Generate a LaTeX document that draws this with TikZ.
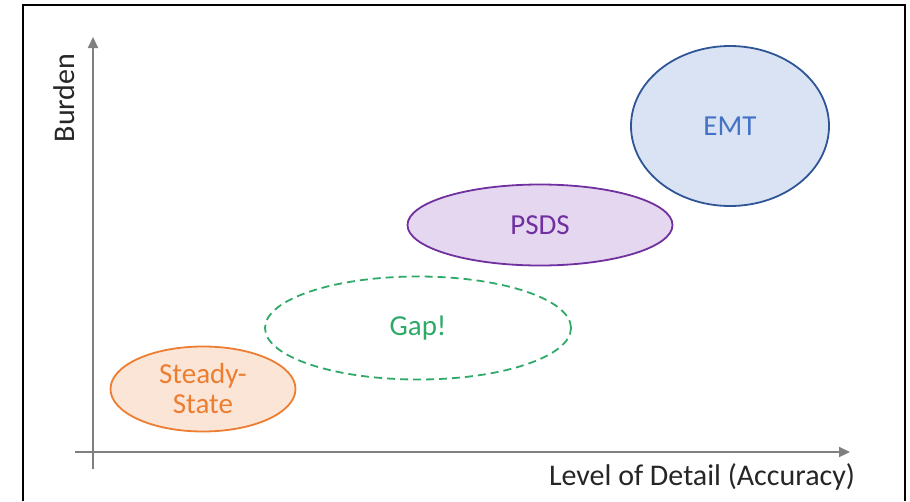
\documentclass[tikz,border=0pt]{standalone}
\usepackage{fontspec}
\setmainfont{Carlito}
\usepackage{tikz}
\usetikzlibrary{arrows.meta}
\usetikzlibrary{shapes.geometric}
\usetikzlibrary{positioning}
\definecolor{morange}{RGB}{237, 125, 49}
\definecolor{lorange}{RGB}{251, 229, 214}
\definecolor{mgreen}{RGB}{46, 170, 104}
\definecolor{mpurple}{RGB}{112, 48, 160}
\definecolor{lpurple}{RGB}{228, 215, 239}
\definecolor{mblue}{RGB}{47, 85, 151}
\definecolor{tblue}{RGB}{68, 114, 196}
\definecolor{lblue}{RGB}{218, 227, 243}
\definecolor{axisgray}{RGB}{128, 128, 128}
\tikzset{region/.style = {ellipse, inner sep = 0, line width = 1.8pt,
                          font = \fontsize{29}{30}\selectfont, align = center}}
\tikzset{axis/.style = {axisgray, line width = 2.2pt,
                        -{Triangle[length = 11pt, width = 10pt]}}}
\tikzset{axislabel/.style = {font = \fontsize{30}{32}\selectfont, text = black!85}}

\begin{document}
\begin{tikzpicture}[x = 1pt, y = -1pt]
      \useasboundingbox (0, 0) rectangle (910, 501);
      \draw [line width = 2.5pt] (23, 501) -- (23, 5) -- (905, 5) -- (905, 501); % frame

      \coordinate (ybot) at (93, 469);
      \coordinate (ytop) at (93, 37);
      \coordinate (xleft) at (75, 452);
      \coordinate (xright) at (850, 452);
      \draw [axis] (ybot) -- (ytop);
      \draw [axis] (xleft) -- (xright);

      \node [axislabel, rotate = 90] (burden) at (64, 98) {Burden};
      \node [axislabel] (detail) at (702, 477) {Level of Detail (Accuracy)};

      \node [region, draw = morange, fill = lorange, text = morange,
             minimum width = 185, minimum height = 85] (steady) at (203, 389) {Steady-\\State};
      \node [region, draw = mgreen, dash pattern = on 8pt off 5pt, text = mgreen,
             minimum width = 306, minimum height = 103] (gap) at (418, 328) {Gap!};
      \node [region, draw = mpurple, fill = lpurple, text = mpurple,
             minimum width = 265, minimum height = 81] (psds) at (540, 225) {PSDS};
      \node [region, draw = mblue, fill = lblue, text = tblue,
             minimum width = 198, minimum height = 160] (emt) at (730, 126) {EMT};
\end{tikzpicture}
\end{document}
